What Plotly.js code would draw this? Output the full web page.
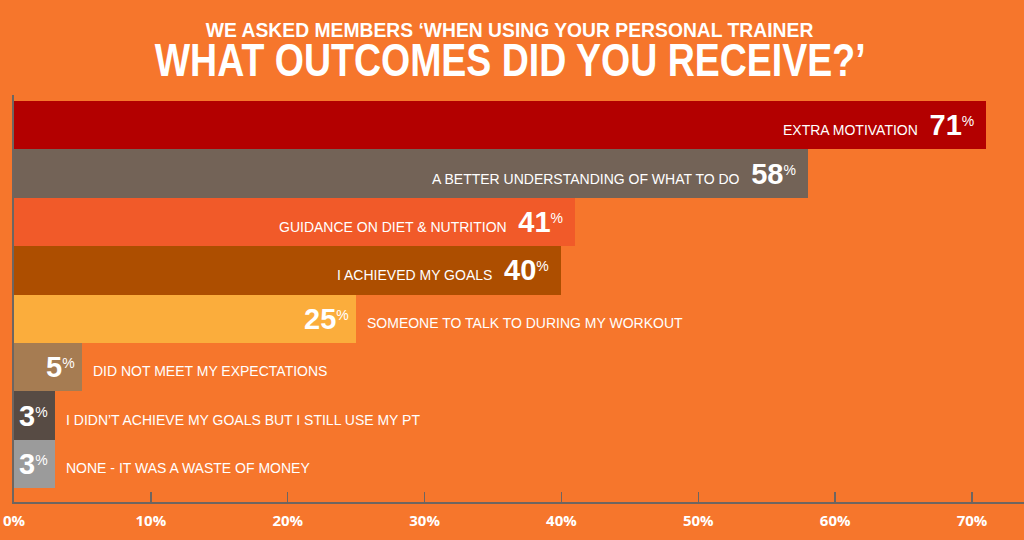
<!DOCTYPE html>
<html>
<head>
<meta charset="utf-8">
<script src="https://cdn.plot.ly/plotly-3.0.1.min.js"></script>
<style>
html,body{margin:0;padding:0;background:#F6762C;}
#chart{width:1024px;height:540px;}
</style>
</head>
<body>
<div id="chart"></div>
<script>
const categories = [
  "EXTRA MOTIVATION",
  "A BETTER UNDERSTANDING OF WHAT TO DO",
  "GUIDANCE ON DIET & NUTRITION",
  "I ACHIEVED MY GOALS",
  "SOMEONE TO TALK TO DURING MY WORKOUT",
  "DID NOT MEET MY EXPECTATIONS",
  "I DIDN\u2019T ACHIEVE MY GOALS BUT I STILL USE MY PT",
  "NONE - IT WAS A WASTE OF MONEY"
];
const values = [71, 58, 41, 40, 25, 5, 3, 3];
const barColors = ["#B30000", "#736357", "#F15A29", "#AD4E00", "#FBAD3C", "#A67C52", "#574B44", "#9B9B9B"];
const tickVals = [0, 10, 20, 30, 40, 50, 60, 70];
const tickText = ["0%", "10%", "20%", "30%", "40%", "50%", "60%", "70%"];
const titleLine1 = "WE ASKED MEMBERS \u2018WHEN USING YOUR PERSONAL TRAINER";
const titleLine2 = "WHAT OUTCOMES DID YOU RECEIVE?\u2019";

const ids = categories.map((c, i) => i);
const labelFont = "Liberation Sans, Arial, sans-serif";
const numFont = "Liberation Sans, Arial, sans-serif";
const titleFont = "Liberation Sans, Arial, sans-serif";

function esc(s) { return s.replace(/&/g, "&amp;"); }
function numHtml(v) {
  return "<span style='font-size:29px'><b>" + v + "</b></span><sup><span style='font-size:14px'>%</span></sup>";
}

const annotations = [];
values.forEach((v, i) => {
  if (v >= 40) {
    annotations.push({
      x: v, y: i, xref: "x", yref: "y",
      xanchor: "right", yanchor: "middle", xshift: -10, yshift: 0,
      showarrow: false, align: "right",
      text: "<span style='font-size:14px'>" + esc(categories[i]) + "&nbsp;&nbsp;&nbsp;</span>" + numHtml(v),
      font: {family: numFont, size: 22, color: "#FFFFFF"}
    });
  } else {
    annotations.push({
      x: v, y: i, xref: "x", yref: "y",
      xanchor: "right", yanchor: "middle", xshift: -5,
      showarrow: false,
      text: numHtml(v),
      font: {family: numFont, size: 22, color: "#FFFFFF"}
    });
    annotations.push({
      x: v, y: i, xref: "x", yref: "y",
      xanchor: "left", yanchor: "middle", xshift: 9, yshift: -4,
      showarrow: false,
      text: esc(categories[i]),
      font: {family: labelFont, size: 14, color: "#FFFFFF"}
    });
  }
});

const titleStart = annotations.length;
annotations.push({
  xref: "paper", yref: "paper", x: 0.491, y: 1.161, xanchor: "center", yanchor: "middle",
  showarrow: false, text: "<b>" + titleLine1 + "</b>",
  font: {family: titleFont, size: 21, color: "#FFFFFF"}
});
annotations.push({
  xref: "paper", yref: "paper", x: 0.491, y: 1.086, xanchor: "center", yanchor: "middle",
  showarrow: false, text: "<b>" + titleLine2 + "</b>",
  font: {family: titleFont, size: 46, color: "#FFFFFF"}
});
const titleWidths = [608, 711];

const trace = {
  type: "bar", orientation: "h",
  x: values, y: ids,
  marker: {color: barColors, line: {width: 0}},
  hoverinfo: "none"
};

const layout = {
  width: 1024, height: 540,
  paper_bgcolor: "#F6762C", plot_bgcolor: "#F6762C",
  margin: {l: 14, r: 0, t: 95, b: 38},
  showlegend: false,
  bargap: 0.0,
  xaxis: {
    range: [0, 73.8], tickvals: tickVals, ticktext: tickText,
    ticks: "inside", ticklen: 10, tickwidth: 1.5, tickcolor: "#6E6560",
    showline: true, linecolor: "#6E6560", linewidth: 2,
    showgrid: false, zeroline: false, ticklabelstandoff: 4,
    tickfont: {family: "Open Sans, sans-serif", size: 15, color: "#FFFFFF", weight: "bold"},
    fixedrange: true
  },
  yaxis: {
    range: [7.785, -0.624], showticklabels: false, ticks: "",
    showline: true, linecolor: "#6E6560", linewidth: 2,
    showgrid: false, zeroline: false, fixedrange: true
  },
  annotations: annotations
};

Plotly.newPlot("chart", [trace], layout, {displayModeBar: false, staticPlot: true}).then(function (gd) {
  [0, 1].forEach(function (k) {
    const g = gd.querySelector("g.annotation[data-index='" + (titleStart + k) + "']");
    if (!g) return;
    const t = g.querySelector("text");
    if (!t) return;
    const bb = t.getBBox();
    const s = titleWidths[k] / bb.width;
    const cx = bb.x + bb.width / 2;
    const prev = t.getAttribute("transform") || "";
    t.setAttribute("transform", "translate(" + cx + ",0) scale(" + s + ",1) translate(" + (-cx) + ",0) " + prev);
  });
});
</script>
</body>
</html>
